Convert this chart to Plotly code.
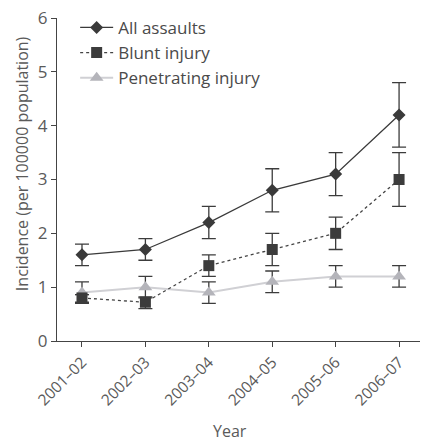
import plotly.graph_objects as go

years = ["2001–02", "2002–03", "2003–04", "2004–05", "2005–06", "2006–07"]

all_assaults = [1.6, 1.7, 2.2, 2.8, 3.1, 4.2]
all_lo = [1.4, 1.5, 1.9, 2.4, 2.7, 3.6]
all_hi = [1.8, 1.9, 2.5, 3.2, 3.5, 4.8]

blunt = [0.8, 0.72, 1.4, 1.7, 2.0, 3.0]
blunt_lo = [0.72, 0.6, 1.2, 1.4, 1.7, 2.5]
blunt_hi = [0.86, 0.82, 1.6, 2.0, 2.3, 3.5]

pen = [0.9, 1.0, 0.9, 1.1, 1.2, 1.2]
pen_lo = [0.7, 0.8, 0.7, 0.9, 1.0, 1.0]
pen_hi = [1.1, 1.2, 1.1, 1.3, 1.4, 1.4]

x = list(range(len(years)))

def err(v, lo, hi):
    return dict(type="data", symmetric=False,
                array=[h - a for a, h in zip(v, hi)],
                arrayminus=[a - l for a, l in zip(v, lo)],
                color="#3c3c3c", thickness=1.3, width=7)

fig = go.Figure()
fig.add_trace(go.Scatter(
    x=x, y=pen, name="Penetrating injury", mode="lines+markers",
    line=dict(color="#d0d0d4", width=2),
    marker=dict(symbol="triangle-up", size=12, color="#b4b4ba"),
    error_y=err(pen, pen_lo, pen_hi), legendgroup="c", legendrank=3))
fig.add_trace(go.Scatter(
    x=x, y=blunt, name="Blunt injury", mode="lines+markers",
    line=dict(color="#444444", width=1.3, dash="dot"),
    marker=dict(symbol="square", size=11, color="#3c3c3c"),
    error_y=err(blunt, blunt_lo, blunt_hi), legendgroup="b", legendrank=2))
fig.add_trace(go.Scatter(
    x=x, y=all_assaults, name="All assaults", mode="lines+markers",
    line=dict(color="#3a3a3a", width=1.3),
    marker=dict(symbol="diamond", size=10, color="#3a3a3a"),
    error_y=err(all_assaults, all_lo, all_hi), legendgroup="a", legendrank=1))

font_fam = "Open Sans, Noto Sans, sans-serif"
txt = "#5a5a5a"
fig.update_layout(
    width=421, height=444,
    margin=dict(l=57, r=1, t=18, b=103),
    paper_bgcolor="white", plot_bgcolor="white",
    font=dict(family=font_fam, color=txt, size=16),
    showlegend=True,
    legend=dict(x=0.05, y=1.025, xanchor="left", yanchor="top",
                bgcolor="rgba(0,0,0,0)", font=dict(size=17, color="#4a4a4a"),
                traceorder="grouped", tracegroupgap=0, itemwidth=33),
    xaxis=dict(
        tickmode="array", tickvals=x, ticktext=years,
        range=[-0.394, 5.33], tickangle=-45, automargin=False,
        showline=True, linecolor="#444444", linewidth=1.3,
        ticks="outside", ticklen=5, tickcolor="#444444",
        showgrid=False, zeroline=False,
        tickfont=dict(size=15.5, color=txt),
    ),
    yaxis=dict(
        range=[0, 6], dtick=1, automargin=False,
        showline=True, linecolor="#444444", linewidth=1.3,
        ticks="outside", ticklen=5, tickcolor="#444444",
        showgrid=False, zeroline=False,
        tickfont=dict(size=17, color=txt),
    ),
    annotations=[
        dict(text="Incidence (per 100000 population)", textangle=-90,
             xref="paper", yref="paper", x=-0.096, y=0.548,
             xanchor="center", yanchor="middle", showarrow=False,
             font=dict(size=16, color=txt)),
        dict(text="Year", xref="paper", yref="paper", x=0.477, y=-0.279,
             xanchor="center", yanchor="middle", showarrow=False,
             font=dict(size=16, color=txt)),
    ],
)

fig.write_html("out.html", config={"displayModeBar": False},
               post_script="document.body.style.margin='0';document.body.style.padding='0';")
